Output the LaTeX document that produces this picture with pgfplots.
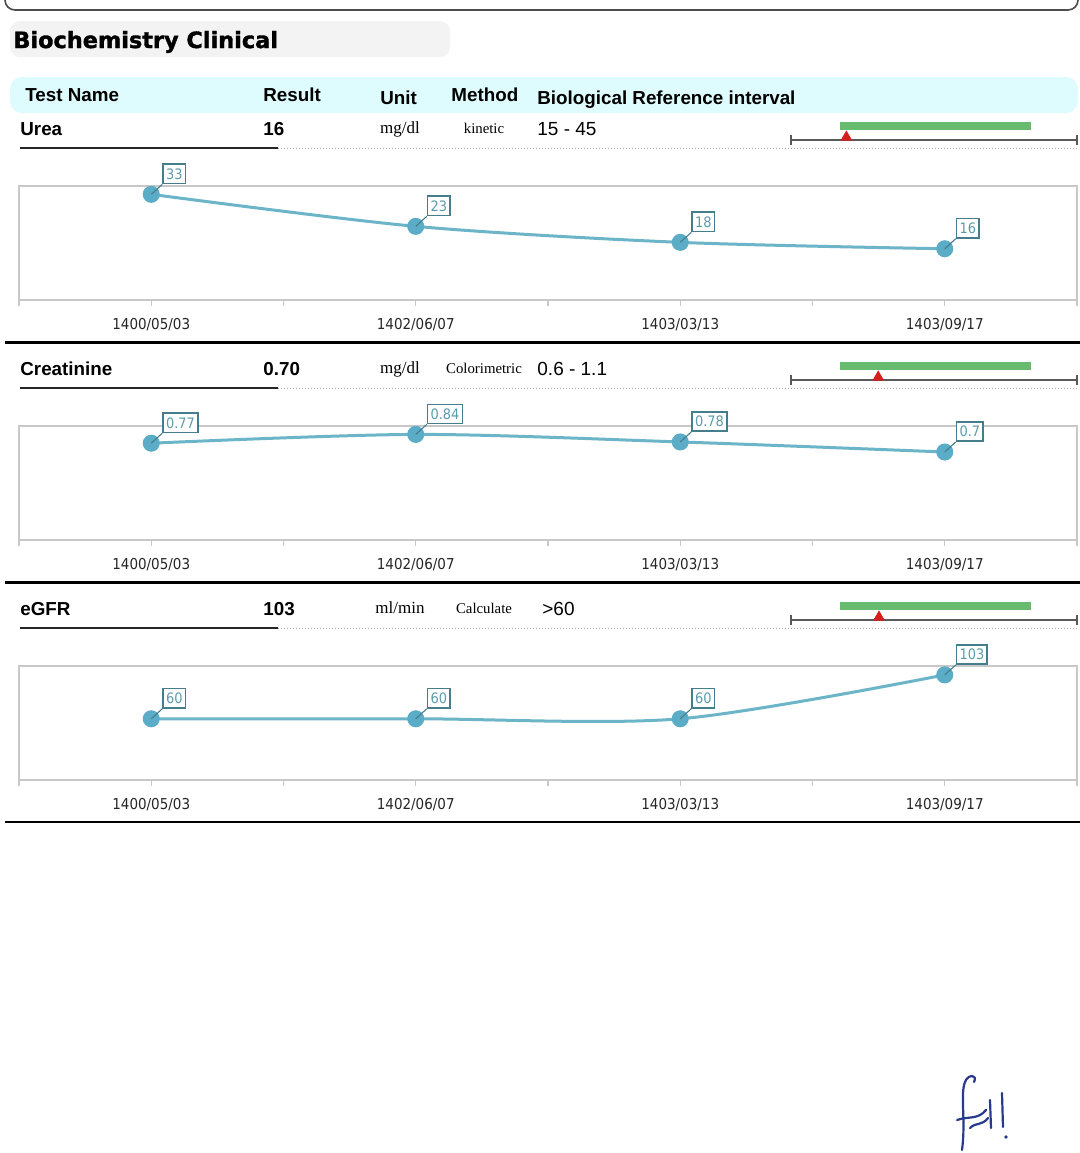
\documentclass[border=0pt]{standalone}
\usepackage{fontspec}
\usepackage{pgfplots}
\pgfplotsset{compat=1.18}
\setmainfont{Liberation Sans}
\newfontfamily\dejavu[BoldFeatures={FakeBold=1.6}]{DejaVu Sans}
\newfontfamily\tickfont[FakeStretch=0.9]{DejaVu Sans}
\newfontfamily\tnr{Liberation Serif}

\definecolor{axgray}{RGB}{200,200,200}
\definecolor{lineblue}{RGB}{108,180,200}
\definecolor{markblue}{RGB}{90,172,199}
\definecolor{lblborder}{RGB}{70,125,140}
\definecolor{lbltext}{RGB}{92,155,170}
\definecolor{rangegreen}{RGB}{102,187,110}
\definecolor{trired}{RGB}{214,30,30}
\definecolor{titlegray}{RGB}{243,243,243}
\definecolor{headcyan}{RGB}{222,251,253}
\definecolor{sigblue}{RGB}{40,58,140}

\pgfplotsset{
 trend/.style={scale only axis, width=529pt, height=57pt, anchor=south west,
  xmin=-0.5, xmax=3.5, ymin=0,
  xtick={0,1,2,3}, xticklabels={1400/05/03,1402/06/07,1403/03/13,1403/09/17},
  minor xtick={-0.5,0.5,1.5,2.5,3.5}, ytick=\empty, xtick pos=lower,
  axis line style={draw=axgray, line width=0.8pt},
  tick style={draw=axgray, line width=0.6pt},
  tick align=outside, major tick length=3pt, minor tick length=3pt,
  xticklabel style={font=\tickfont\fontsize{7.5}{9}\selectfont, text=black!85, yshift=-2.5pt},
  clip=false},
 trendline/.style={smooth, color=lineblue, line width=1.5pt, mark=*, mark size=3.5pt,
  mark options={draw=markblue, fill=markblue},
  point meta=explicit symbolic, nodes near coords={\pgfplotspointmeta},
  every node near coord/.style={anchor=south west, xshift=5.5pt, yshift=5pt,
    draw=lblborder, line width=0.8pt, fill=white, text=lbltext,
    font=\tickfont\fontsize{7.2}{8}\selectfont, inner xsep=1.5pt, inner ysep=2.1pt,
    append after command={(\tikzlastnode.south west) edge[draw=lblborder, line width=0.55pt] +(-5.5pt,-5pt)}}},
 refbar/.style={scale only axis, width=143pt, height=7pt, anchor=south west,
  ymin=0, ymax=1, hide axis, clip=false},
}

\begin{document}
\begin{tikzpicture}
\begin{scope}[x=0.5pt,y=-0.5pt]
\useasboundingbox (0,0) rectangle (1080,1153);
\fill[white] (0,0) rectangle (1080,1153);
\draw[black!70, line width=0.8pt, rounded corners=5pt] (5,-20) -- (5,10) -- (1078,10) -- (1078,-20);
\fill[titlegray, rounded corners=5pt] (10,21) rectangle (450,57);
\node[anchor=base west, inner sep=0, font=\dejavu\bfseries\fontsize{11.2}{13}\selectfont] at (13,48) {Biochemistry Clinical};
\fill[headcyan, rounded corners=6pt] (10,77) rectangle (1078,113);
\begin{scope}[every node/.style={anchor=base west, inner sep=0, font=\bfseries\fontsize{9.4}{11}\selectfont}]
\node at (25,101) {Test Name};
\node at (263,101) {Result};
\node at (380,104) {Unit};
\node at (451,101) {Method};
\node at (537,104) {Biological Reference interval};
% row names and results
\node at (20,135) {Urea};
\node at (263,135) {16};
\node at (20,375) {Creatinine};
\node at (263,375) {0.70};
\node at (20,615) {eGFR};
\node at (263,615) {103};
\end{scope}
\begin{scope}[every node/.style={anchor=base, inner sep=0}]
\node[font=\tnr\fontsize{8.5}{10}\selectfont] at (400,133) {mg/dl};
\node[font=\tnr\fontsize{7.4}{9}\selectfont] at (484,133) {kinetic};
\node[font=\tnr\fontsize{8.5}{10}\selectfont] at (400,373) {mg/dl};
\node[font=\tnr\fontsize{7.4}{9}\selectfont] at (484,373) {Colorimetric};
\node[font=\tnr\fontsize{8.5}{10}\selectfont] at (400,613) {ml/min};
\node[font=\tnr\fontsize{7.4}{9}\selectfont] at (484,613) {Calculate};
\end{scope}
\begin{scope}[every node/.style={anchor=base west, inner sep=0, font=\fontsize{9.5}{11}\selectfont}]
\node at (537,135) {15 - 45};
\node at (537,375) {0.6 - 1.1};
\node at (542,615) {>60};
\end{scope}
% underlines
\foreach \yy in {148,388,628}{
  \draw[black!85, line width=1pt] (20,\yy) -- (278,\yy);
  \draw[black!35, line width=0.5pt, dash pattern=on 0.5pt off 1pt] (278,\yy) -- (1078,\yy);
}
% separators
\draw[black, line width=1.5pt] (5,342) -- (1080,342);
\draw[black, line width=1.5pt] (5,582) -- (1080,582);
\draw[black, line width=1pt] (5,822) -- (1080,822);
% signature
\draw[sigblue, line width=1.1pt, line cap=round, line join=round]
  (962,1150) .. controls (966,1120) and (960,1095) .. (965,1082) .. controls (968,1074) and (978,1074) .. (974,1082);
\draw[sigblue, line width=1.1pt, line cap=round] (957,1120) .. controls (968,1116) and (978,1120) .. (986,1110);
\draw[sigblue, line width=1.1pt, line cap=round] (970,1128) .. controls (976,1122) and (982,1126) .. (988,1118);
\draw[sigblue, line width=1.1pt, line cap=round] (990,1100) -- (991,1128);
\draw[sigblue, line width=1.1pt, line cap=round] (1002,1093) -- (1003,1127);
\fill[sigblue] (1006,1137) circle (1.8);
\end{scope}

% ---- trend charts ----
\begin{axis}[trend, at={(9.5pt,-150pt)}, ymax=35.6]
\addplot[trendline] coordinates {(0,33) [33] (1,23) [23] (2,18) [18] (3,16) [16]};
\end{axis}
\begin{axis}[trend, at={(9.5pt,-270pt)}, ymax=0.907]
\addplot[trendline] coordinates {(0,0.77) [0.77] (1,0.84) [0.84] (2,0.78) [0.78] (3,0.7) [0.7]};
\end{axis}
\begin{axis}[trend, at={(9.5pt,-390pt)}, ymax=111.7]
\addplot[trendline] coordinates {(0,60) [60] (1,60) [60] (2,60) [60] (3,103) [103]};
\end{axis}

% ---- reference interval bars ----
\begin{axis}[refbar, at={(395.5pt,-70pt)}, xmin=7.304, xmax=52.225]
\addplot[draw=black!65, line width=0.9pt] coordinates {(7.304,0) (52.225,0)};
\addplot[draw=black!65, line width=0.9pt] coordinates {(7.304,-0.35) (7.304,0.35)};
\addplot[draw=black!65, line width=0.9pt] coordinates {(52.225,-0.35) (52.225,0.35)};
\addplot[draw=rangegreen, line width=4pt] coordinates {(15,1) (45,1)};
\addplot[only marks, mark=triangle*, mark size=3pt, color=trired] coordinates {(16,0.2)};
\end{axis}
\begin{axis}[refbar, at={(395.5pt,-190pt)}, xmin=0.4717, xmax=1.2204]
\addplot[draw=black!65, line width=0.9pt] coordinates {(0.4717,0) (1.2204,0)};
\addplot[draw=black!65, line width=0.9pt] coordinates {(0.4717,-0.35) (0.4717,0.35)};
\addplot[draw=black!65, line width=0.9pt] coordinates {(1.2204,-0.35) (1.2204,0.35)};
\addplot[draw=rangegreen, line width=4pt] coordinates {(0.6,1) (1.1,1)};
\addplot[only marks, mark=triangle*, mark size=3pt, color=trired] coordinates {(0.7,0.2)};
\end{axis}
\begin{axis}[refbar, at={(395.5pt,-310pt)}, xmin=5.97, xmax=321.3]
\addplot[draw=black!65, line width=0.9pt] coordinates {(5.97,0) (321.3,0)};
\addplot[draw=black!65, line width=0.9pt] coordinates {(5.97,-0.35) (5.97,0.35)};
\addplot[draw=black!65, line width=0.9pt] coordinates {(321.3,-0.35) (321.3,0.35)};
\addplot[draw=rangegreen, line width=4pt] coordinates {(60,1) (270.6,1)};
\addplot[only marks, mark=triangle*, mark size=3pt, color=trired] coordinates {(103,0.2)};
\end{axis}
\end{tikzpicture}
\end{document}
